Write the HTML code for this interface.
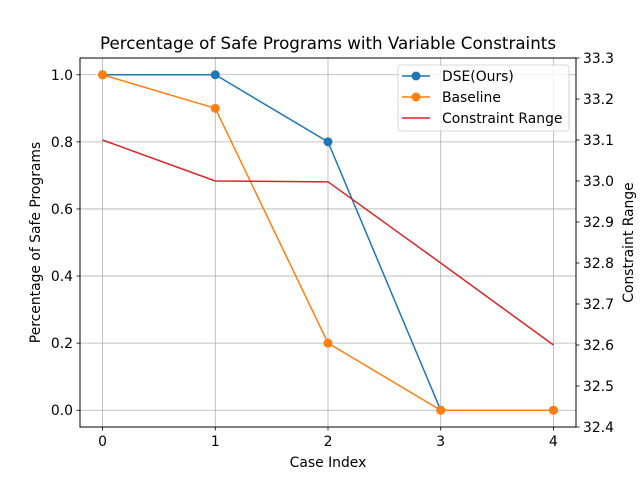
<!DOCTYPE html>
<html><head><meta charset="utf-8"><style>
body{margin:0;background:#fff}
svg text{font-family:"DejaVu Sans","Liberation Sans",sans-serif;fill:#000}
</style></head><body>
<svg width="640" height="480">
<g id="g"></g>
</svg>
<script>
const cases=[0,1,2,3,4];
const dse=[1.0,1.0,0.8,0.0,0.0];
const baseline=[1.0,0.9,0.2,0.0,0.0];
const constraint=[33.1,33.0,32.998,32.8,32.6];
const leftTicks=[0.0,0.2,0.4,0.6,0.8,1.0];
const rightTicks=[32.4,32.5,32.6,32.7,32.8,32.9,33.0,33.1,33.2,33.3];
const L=80,R=576,T=58,B=427;
const FS=13.9;
const xs=v=>L+(v+0.2)/4.4*(R-L);
const yl=v=>B-(v+0.05)/1.1*(B-T);
const yr=v=>B-(v-32.4)/0.9*(B-T);
const g=document.getElementById('g');
const NS='http://www.w3.org/2000/svg';
function el(t,a,p){const e=document.createElementNS(NS,t);for(const k in a)e.setAttribute(k,a[k]);(p||g).appendChild(e);return e;}
function txt(s,a){const e=el('text',a);e.textContent=s;return e;}
cases.forEach(c=>{const e=el('line',{x1:xs(c),x2:xs(c),y1:T,y2:B,stroke:'#b0b0b0','stroke-width':0.8});

});
leftTicks.forEach(v=>{const e=el('line',{x1:L,x2:R,y1:yl(v),y2:yl(v),stroke:'#b0b0b0','stroke-width':0.8});

});
function series(vals,fy,color,name,markers){
 const p=el('polyline',{points:vals.map((v,i)=>xs(cases[i])+','+fy(v)).join(' '),fill:'none',stroke:color,'stroke-width':1.5});
 
 
 if(markers)vals.forEach((v,i)=>{const c=el('circle',{cx:xs(cases[i]),cy:fy(v),r:4.5,fill:color});
 
 });
}
series(dse,yl,'#1f77b4','dse',true);
series(baseline,yl,'#ff7f0e','baseline',true);
series(constraint,yr,'#d62728','constraint-range',false);
const f=el('rect',{x:L,y:T,width:R-L,height:B-T,fill:'none',stroke:'#000','stroke-width':1});


cases.forEach(c=>{el('line',{x1:xs(c),x2:xs(c),y1:B,y2:B+3.5,stroke:'#000','stroke-width':0.8});
const t=txt(String(c),{x:xs(c),y:B+19,'text-anchor':'middle','font-size':FS});

});
leftTicks.forEach(v=>{el('line',{x1:L-3.5,x2:L,y1:yl(v),y2:yl(v),stroke:'#000','stroke-width':0.8});
const t=txt(v.toFixed(1),{x:L-7,y:yl(v)+5,'text-anchor':'end','font-size':FS});

});
rightTicks.forEach(v=>{el('line',{x1:R,x2:R+3.5,y1:yr(v),y2:yr(v),stroke:'#000','stroke-width':0.8});
const t=txt(v.toFixed(1),{x:R+7,y:yr(v)+5,'font-size':FS});

});
let t=txt('Case Index',{x:(L+R)/2,y:467,'text-anchor':'middle','font-size':FS});

t=txt('Percentage of Safe Programs',{x:0,y:0,'text-anchor':'middle','font-size':FS,transform:'translate(40,'+((T+B)/2)+') rotate(-90)'});

t=txt('Constraint Range',{x:0,y:0,'text-anchor':'middle','font-size':FS,transform:'translate(633,'+((T+B)/2)+') rotate(-90)'});

t=txt('Percentage of Safe Programs with Variable Constraints',{x:(L+R)/2,y:49,'text-anchor':'middle','font-size':16.7});

const lg=el('rect',{x:398,y:65,width:171,height:66,rx:3,fill:'#fff','fill-opacity':0.8,stroke:'#ccc','stroke-width':0.8});

const entries=[['DSE(Ours)','#1f77b4',true],['Baseline','#ff7f0e',true],['Constraint Range','#d62728',false]];
entries.forEach((en,i)=>{const y=76+i*21;
 el('line',{x1:402,x2:430,y1:y,y2:y,stroke:en[1],'stroke-width':1.5});
 if(en[2])el('circle',{cx:416,cy:y,r:4.5,fill:en[1]});
 const tt=txt(en[0],{x:442,y:y+5,'font-size':FS});
 
 });
</script>
</body></html>
